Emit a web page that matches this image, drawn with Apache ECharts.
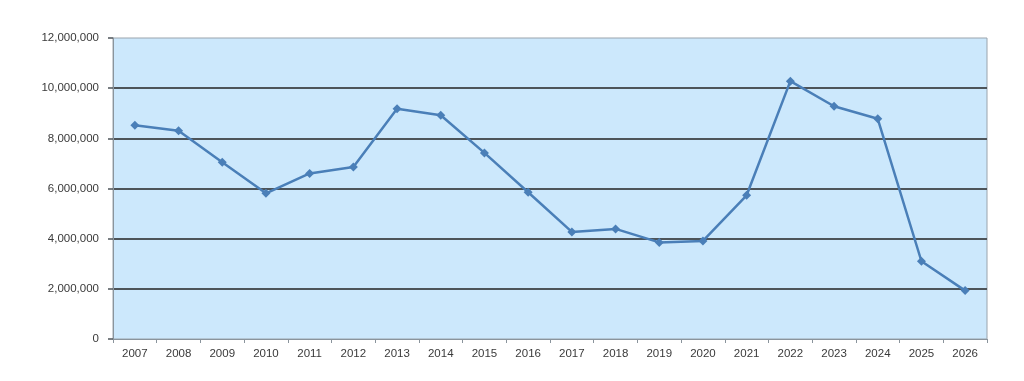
<!DOCTYPE html>
<html>
<head>
<meta charset="utf-8">
<script src="https://cdn.jsdelivr.net/npm/echarts@6/dist/echarts.min.js"></script>
<style>
html,body{margin:0;padding:0;background:#fff;}
#chart{width:1024px;height:381px;}
</style>
</head>
<body>
<div id="chart"></div>
<script>
const years = ['2007','2008','2009','2010','2011','2012','2013','2014','2015','2016','2017','2018','2019','2020','2021','2022','2023','2024','2025','2026'];
const values = [8520000,8300000,7050000,5810000,6600000,6860000,9180000,8920000,7420000,5850000,4270000,4390000,3850000,3910000,5730000,10280000,9280000,8780000,3100000,1930000];

const chart = echarts.init(document.getElementById('chart'), null, {renderer:'canvas'});
chart.setOption({
  animation:false,
  grid:{left:113,right:37,top:38,bottom:42,show:true,backgroundColor:'#cce8fc',borderColor:'#9aa4ad',borderWidth:1},
  xAxis:{
    type:'category',data:years,boundaryGap:true,
    axisLine:{lineStyle:{color:'#8a949c',width:1}},
    axisTick:{show:true,alignWithLabel:false,length:4,lineStyle:{color:'#8a949c'}},
    axisLabel:{color:'#3a3a3a',fontFamily:'Liberation Sans, Arial, sans-serif',fontSize:11.5,margin:9},
    splitLine:{show:false}
  },
  yAxis:{
    type:'value',min:0,max:12000000,interval:2000000,
    axisLine:{show:true,lineStyle:{color:'#8a949c',width:1}},
    axisTick:{show:true,length:5,lineStyle:{color:'#4d5459',width:1.5}},
    axisLabel:{color:'#3a3a3a',fontFamily:'Liberation Sans, Arial, sans-serif',fontSize:11.5,margin:14,
      formatter:v=>v.toLocaleString('en-US')},
    splitLine:{show:true,lineStyle:{color:['rgba(0,0,0,0)','#4d5459','#4d5459','#4d5459','#4d5459','#4d5459','rgba(0,0,0,0)'],width:1.8}}
  },
  series:[{
    type:'line',data:values,
    symbol:'diamond',symbolSize:9,
    lineStyle:{color:'#4a7fb8',width:2.5},
    itemStyle:{color:'#4a7fb8'}
  }]
});
</script>
</body>
</html>
